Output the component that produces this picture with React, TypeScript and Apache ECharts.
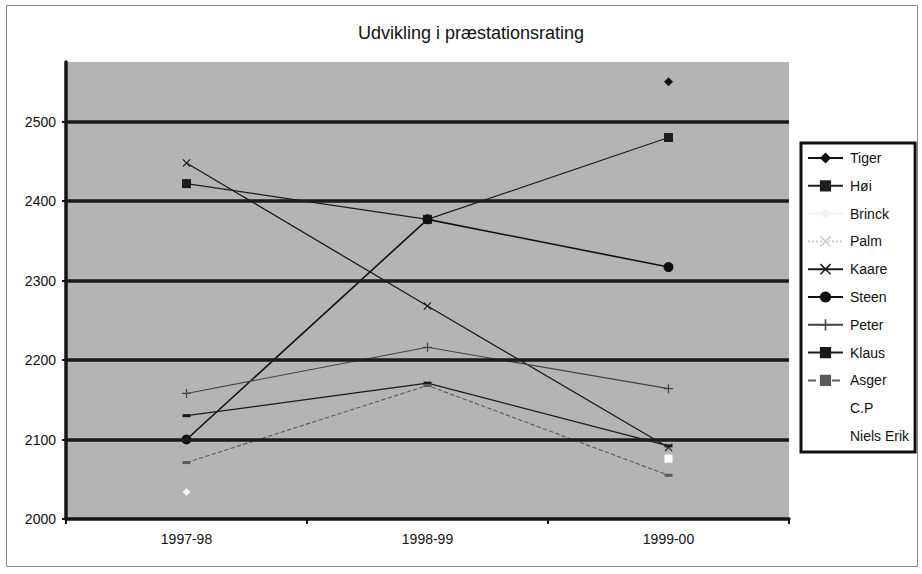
import React, { useEffect, useRef } from "react";
import * as echarts from "echarts";

const seasons = ["1997-98", "1998-99", "1999-00"];
const yTicks = [2000, 2100, 2200, 2300, 2400, 2500];
const gridValues = [2100, 2200, 2300, 2400, 2500];

const tiger = [null, null, 2550];
const hoi = [2422, 2377, 2480];
const brinck = [2034, null, null];
const palm = [null, null, null];
const kaare = [2448, 2268, 2090];
const steen = [2100, 2377, 2317];
const peter = [2158, 2216, 2164];
const klaus = [2130, 2171, 2092];
const asger = [2071, 2168, 2055];
const cp = [null, null, 2076];
const nielsErik = [null, null, null];

const FONT = "'Liberation Sans', Arial, sans-serif";

const X_SYMBOL = "path://M0,1L1,0L5,4L9,0L10,1L6,5L10,9L9,10L5,6L1,10L0,9L4,5Z";
const PLUS_SYMBOL = "path://M4.3,0H5.7V4.3H10V5.7H5.7V10H4.3V5.7H0V4.3H4.3Z";

function mkSeries(
  name: string,
  data: (number | null)[],
  color: string,
  lineType: any,
  lineWidth: number,
  symbol: string,
  symbolSize: any
) {
  return {
    name,
    type: "line",
    data,
    z: 3,
    symbol,
    symbolSize,
    showSymbol: true,
    connectNulls: false,
    lineStyle: { color, type: lineType, width: lineWidth },
    itemStyle: { color, borderWidth: 0 },
    emphasis: { disabled: true },
  };
}

export default function App() {
  const ref = useRef<HTMLDivElement>(null);

  useEffect(() => {
    if (!ref.current) return;
    const chart = echarts.init(ref.current, null, { renderer: "svg" });
    const option: any = {
      animation: false,
      backgroundColor: "#ffffff",
      textStyle: { fontFamily: FONT },
      title: {
        text: "Udvikling i præstationsrating",
        left: 353,
        top: 19,
        textStyle: { fontSize: 18, fontWeight: "normal", color: "#111", fontFamily: FONT },
      },
      graphic: [
        {
          type: "rect",
          shape: { x: 6.5, y: 5.5, width: 911, height: 561 },
          style: { fill: "none", stroke: "#8a8a8a", lineWidth: 1 },
          silent: true,
          z: -1,
        },
      ],
      grid: {
        left: 66,
        right: 133,
        top: 62,
        bottom: 55,
        show: true,
        backgroundColor: "#b4b4b4",
        borderWidth: 0,
      },
      legend: {
        orient: "vertical",
        left: 801,
        top: 143,
        padding: [8, 6, 9, 6],
        itemGap: 13.8,
        itemWidth: 35,
        itemHeight: 14,
        itemStyle: { borderWidth: 0 },
        borderColor: "#111",
        borderWidth: 3,
        backgroundColor: "#ffffff",
        textStyle: { fontSize: 14, color: "#111", fontFamily: FONT, padding: [0, 0, 0, 2] },
        data: ["Tiger", "Høi", "Brinck", "Palm", "Kaare", "Steen", "Peter", "Klaus", "Asger", "C.P", "Niels Erik"],
      },
      xAxis: {
        type: "category",
        data: seasons,
        boundaryGap: true,
        axisLine: { show: true, lineStyle: { color: "#151515", width: 3.5 } },
        axisTick: { show: true, length: 5, lineStyle: { color: "#151515", width: 2 } },
        axisLabel: { fontSize: 14, color: "#111", margin: 13, fontFamily: FONT },
        splitLine: { show: false },
      },
      yAxis: {
        type: "value",
        min: 2000,
        max: 2575,
        interval: 100,
        axisLine: { show: true, lineStyle: { color: "#151515", width: 3.5 } },
        axisTick: { show: true, length: 4, lineStyle: { color: "#151515", width: 2 }, customValues: yTicks },
        axisLabel: {
          fontSize: 14,
          color: "#111",
          margin: 10,
          fontFamily: FONT,
          customValues: yTicks,
          formatter: (v: number) => String(v),
        },
        splitLine: { show: false },
      },
      series: [
        {
          name: "__grid",
          type: "line",
          data: [],
          z: 1,
          silent: true,
          markLine: {
            silent: true,
            symbol: "none",
            label: { show: false },
            lineStyle: { color: "#1a1a1a", width: 3.5, type: "solid" },
            data: gridValues.map((v) => ({ yAxis: v })),
          },
        },
        mkSeries("Tiger", tiger, "#111", "solid", 1.2, "diamond", 9),
        mkSeries("Høi", hoi, "#1e1e1e", "solid", 1.2, "rect", 9),
        mkSeries("Brinck", brinck, "#f4f4f4", "solid", 1, "diamond", 8),
        mkSeries("Palm", palm, "#cfcfcf", "dotted", 1, X_SYMBOL, 7),
        mkSeries("Kaare", kaare, "#1a1a1a", "solid", 1.3, X_SYMBOL, 8),
        mkSeries("Steen", steen, "#111", "solid", 1.6, "circle", 10),
        mkSeries("Peter", peter, "#444", "solid", 1.1, PLUS_SYMBOL, 9),
        mkSeries("Klaus", klaus, "#1a1a1a", "solid", 1.3, "rect", [8, 3]),
        mkSeries("Asger", asger, "#5a5a5a", "dashed", 1.1, "rect", [8, 3]),
        mkSeries("C.P", cp, "#ffffff", "solid", 1, "rect", 8),
        mkSeries("Niels Erik", nielsErik, "#ffffff", "solid", 1, "circle", 6),
      ],
    };
    chart.setOption(option);
    return () => chart.dispose();
  }, []);

  return (
    <div
      ref={ref}
      style={{ position: "fixed", left: 0, top: 0, width: 922, height: 574, background: "#fff" }}
    />
  );
}
